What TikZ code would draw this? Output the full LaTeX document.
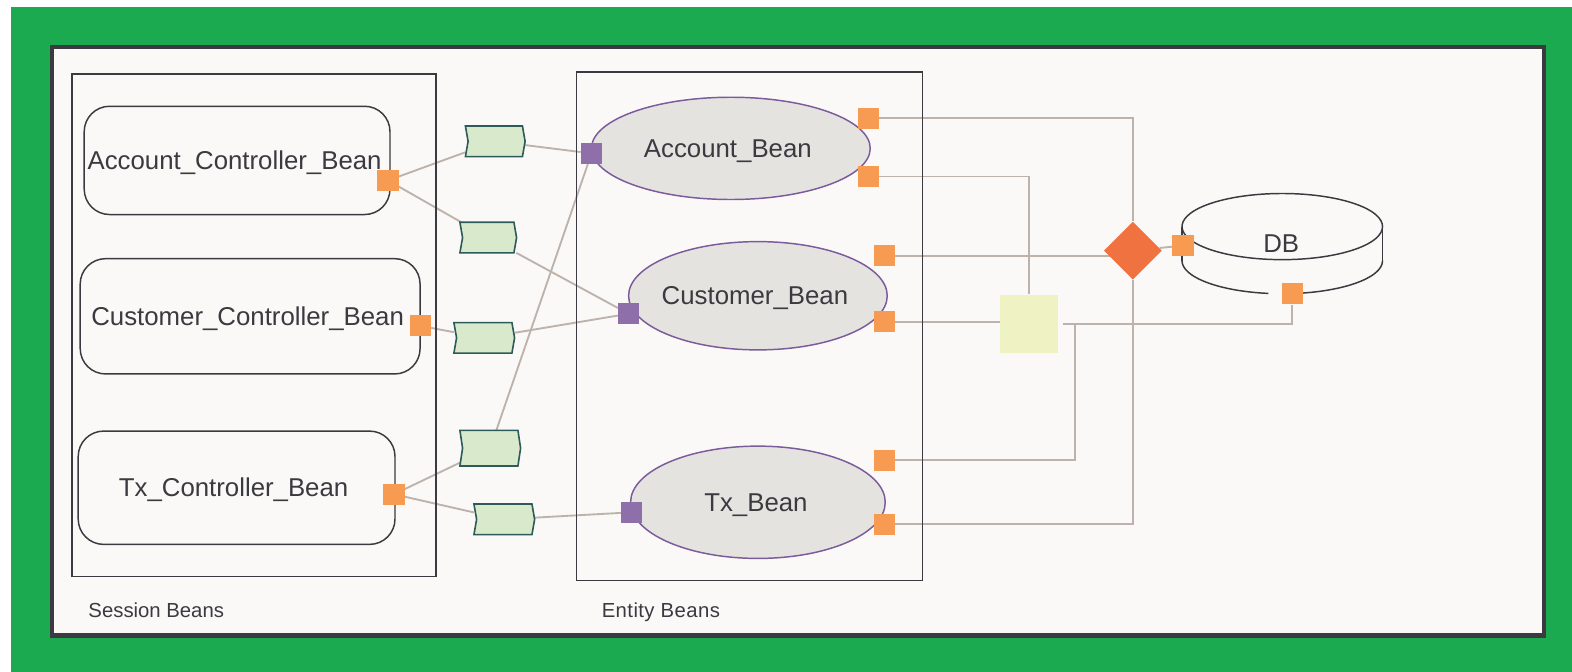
\documentclass[tikz,border=0pt]{standalone}
\usepackage{fontspec}
\setmainfont{Liberation Sans}
\usetikzlibrary{shapes.geometric}
\definecolor{greenbg}{HTML}{1BAA50}
\definecolor{panelbg}{HTML}{FAF9F7}
\definecolor{darkline}{HTML}{3A3A40}
\definecolor{conn}{HTML}{BDB3AC}
\definecolor{orangeport}{HTML}{F79A52}
\definecolor{purpleport}{HTML}{8F6FAA}
\definecolor{ellfill}{HTML}{E4E3E0}
\definecolor{ellline}{HTML}{7B5B9B}
\definecolor{flagfill}{HTML}{D8EACB}
\definecolor{flagline}{HTML}{2F5A5A}
\definecolor{yellowbox}{HTML}{EFF3C4}
\definecolor{diamondfill}{HTML}{F17241}
\pgfdeclarelayer{bglayer}
\pgfdeclarelayer{connlayer}
\pgfsetlayers{bglayer,connlayer,main}
\tikzset{
  frameline/.style={draw=darkline,line width=1.1pt},
  beanbox/.style={draw=darkline,line width=1.1pt,rounded corners=19pt,inner sep=0pt,text depth=0pt,text=darkline,font=\fontsize{19.3}{22}\selectfont},
  beanell/.style={ellipse,draw=ellline,fill=ellfill,line width=1.1pt,inner sep=0pt,text depth=0pt,text=darkline,font=\fontsize{19.3}{22}\selectfont},
  oport/.style={rectangle,fill=orangeport,inner sep=0pt,minimum size=15.75pt},
  pport/.style={rectangle,fill=purpleport,inner sep=0pt,minimum size=15.75pt},
  flagbox/.style={rectangle,inner sep=0pt},
  flagdraw/.style={draw=flagline,fill=flagfill,line width=1.2pt},
  wire/.style={draw=conn,line width=1.4pt},
  caption/.style={anchor=base west,inner sep=0pt,text=darkline,font=\fontsize{15.2}{17}\selectfont},
}
\newcommand{\flagnode}[5]{%
  \node[flagbox,minimum width=#4*0.75pt,minimum height=#5*0.75pt] (#1) at (#2,#3) {};
  \draw[flagdraw] (#1.north west) -- ([xshift=-2pt]#1.north east) -- (#1.east)
    -- ([xshift=-2pt]#1.south east) -- (#1.south west) -- ([xshift=2pt]#1.west) -- cycle;
}
\begin{document}
\begin{tikzpicture}[x=0.75pt,y=-0.75pt]
\useasboundingbox (0,0) rectangle (1568,670);
\begin{pgfonlayer}{bglayer}
\fill[white] (0,0) rectangle (1568,670);
\fill[greenbg] (11,7) rectangle (1568,670);
\draw[draw=darkline,fill=panelbg,line width=3.4pt] (52,47) rectangle (1540,634);
\end{pgfonlayer}
% frames
\node[frameline,rectangle,inner sep=0pt,minimum width=272.25pt,minimum height=375.75pt] (session) at (253.5,324.5) {};
\node[frameline,rectangle,inner sep=0pt,minimum width=258.75pt,minimum height=380.25pt] (entity) at (747.5,325.5) {};
\node[caption] (sessionlbl) at (88,616) {Session Beans};
\node[caption] (entitylbl) at (600,616) {\addfontfeature{LetterSpace=2}Entity Beans};
% session beans
\node[beanbox,minimum width=228.75pt,minimum height=81pt] (acc) at (236.5,160) {Account\_Controller\_Bean\kern3.75pt};
\node[beanbox,minimum width=254.25pt,minimum height=86.25pt] (cus) at (249.5,315.5) {Customer\_Controller\_Bean\kern3.75pt};
\node[beanbox,minimum width=237pt,minimum height=84.75pt] (txc) at (236,486.5) {\raisebox{1.1pt}{Tx\_Controller\_Bean}\kern4.5pt};
% entity beans
\node[beanell,minimum width=208.5pt,minimum height=76.5pt] (eacc) at (729,148) {\makebox[0pt]{Account\_Bean\kern4.5pt}};
\node[beanell,minimum width=193.5pt,minimum height=81pt] (ecus) at (756,295) {\makebox[0pt]{Customer\_Bean\kern4.5pt}};
\node[beanell,minimum width=190.5pt,minimum height=84pt] (etx) at (756,501) {\makebox[0pt]{Tx\_Bean\kern3pt}};
% flags
\flagnode{fa}{494}{141}{59}{30}
\flagnode{fb}{487}{237}{56}{30}
\flagnode{fc}{483}{337}{60}{30}
\flagnode{fd}{489}{447}{60}{35}
\flagnode{fe}{503}{518}{60}{30}
% ports
\node[oport] (pa) at (387,180) {};
\node[oport] (pb) at (419,325) {};
\node[oport] (pc) at (393,493) {};
\node[pport] (qa) at (590,153) {};
\node[pport] (qb) at (627,313) {};
\node[pport] (qc) at (630,511) {};
\node[oport] (ra) at (866,118) {};
\node[oport] (rb) at (866,176) {};
\node[oport] (rc) at (882,255) {};
\node[oport] (rd) at (882,321) {};
\node[oport] (re) at (882,459) {};
\node[oport] (rf) at (882,523) {};
% yellow, diamond
\node[rectangle,fill=yellowbox,inner sep=0pt,minimum size=43.5pt] (yb) at (1026,323) {};
\node[diamond,fill=diamondfill,inner sep=0pt,minimum width=43.5pt,minimum height=43.5pt] (dm) at (1130,250) {};
% cylinder
\draw[darkline,line width=1.1pt] plot[smooth,samples=72,domain=0:360] ({1279+100*cos(\x)},{226+33*sin(\x)});
\draw[darkline,line width=1.1pt] (1179,226) -- (1179,260);
\draw[darkline,line width=1.1pt] (1379,226) -- (1379,260);
\draw[darkline,line width=1.1pt] plot[smooth,samples=30,domain=0:80] ({1279+100*cos(\x)},{260+33*sin(\x)});
\draw[darkline,line width=1.1pt] plot[smooth,samples=30,domain=98:180] ({1279+100*cos(\x)},{260+33*sin(\x)});
\node[inner sep=0pt,text=darkline,font=\fontsize{19.3}{22}\selectfont] (dblbl) at (1278,243) {DB};
\node[oport] (da) at (1180,245) {};
\node[oport] (db) at (1289,293) {};
\coordinate (ybout) at (1060,323);
\coordinate (jn) at (1072,323);
% connectors
\begin{pgfonlayer}{connlayer}
\draw[wire] (pa) -- (fa);
\draw[wire] (fa) -- (qa);
\draw[wire] (pa) -- (fb);
\draw[wire] (fb) -- (qb);
\draw[wire] (pb) -- (fc);
\draw[wire] (fc) -- (qb);
\draw[wire] (pc) -- (fd);
\draw[wire] (fd) -- (qa);
\draw[wire] (pc) -- (fe);
\draw[wire] (fe) -- (qc);
\draw[wire] (ra) -| (dm);
\draw[wire] (rb) -| (yb);
\draw[wire] (rc) -- (rc -| dm);
\draw[wire] (rd) -- (rd -| yb);
\draw[wire] (ybout) -| (db);
\draw[wire] (re) -| (jn);
\draw[wire] (rf) -| (dm);
\draw[wire] (dm) -- (da);
\end{pgfonlayer}
\end{tikzpicture}
\end{document}
